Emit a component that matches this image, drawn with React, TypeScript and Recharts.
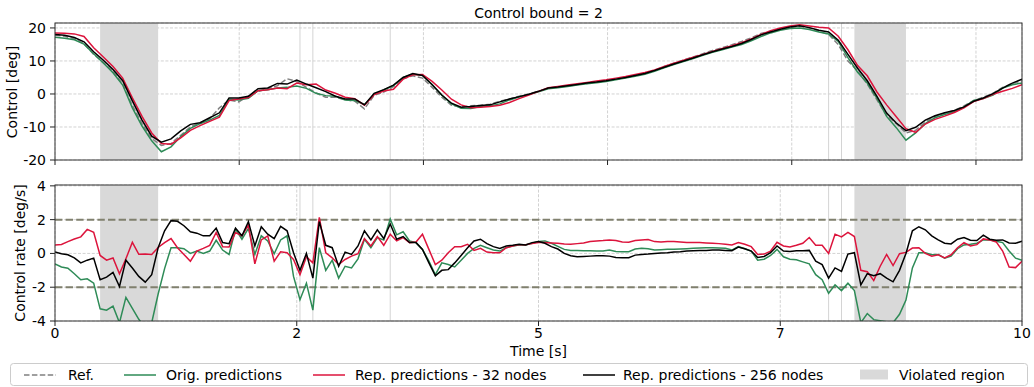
import React from 'react';
import { LineChart, Line, XAxis, YAxis, CartesianGrid, ReferenceArea, ReferenceLine } from 'recharts';

const FONT = "'DejaVu Sans', sans-serif";

// time steps (s)
const TOP_STEP = 0.1;
const RATE_STEP = 1 / 15;

// Control [deg], sampled every 0.1 s
const refControl = [
  17.8, 17.5, 16.7, 15.2, 12.0, 9.5, 6.8, 3.0, -3.5, -9.0,
  -13.5, -15.6, -15.0, -12.5, -10.0, -8.8, -7.5, -4.2, -1.8, -2.4,
  -0.6, 0.8, 1.6, 2.5, 4.6, 3.8, 2.0, 0.3, -1.0, -1.0,
  -1.7, -2.2, -4.5, -0.4, 0.6, 2.2, 4.6, 5.5, 4.8, 2.0,
  -1.0, -3.4, -4.0, -3.6, -3.4, -3.1, -2.2, -1.5, -0.7, 0.0,
  0.8, 1.7, 2.0, 2.4, 2.8, 3.2, 3.6, 4.0, 4.5, 5.0,
  5.6, 6.2, 7.2, 8.3, 9.3, 10.3, 11.2, 12.2, 13.2, 14.0,
  14.9, 15.9, 17.0, 18.3, 19.0, 19.7, 20.2, 20.5, 20.0, 19.0,
  18.0, 15.0, 10.0, 7.0, 3.0, -1.8, -6.5, -9.0, -11.8, -11.0,
  -8.5, -6.8, -5.8, -5.0, -3.6, -2.0, -1.0, 0.2, 2.0, 3.2,
  4.0,
];
const origControl = [
  17.2, 16.9, 16.4, 15.1, 12.2, 9.4, 6.4, 2.7, -4.2, -9.7,
  -14.2, -17.5, -16.0, -12.9, -10.4, -9.0, -7.9, -6.5, -1.6, -1.8,
  -1.3, 1.0, 1.3, 1.8, 2.0, 2.4, 1.7, 0.2, -0.5, -0.7,
  -1.8, -2.0, -3.2, -0.1, 1.2, 2.5, 5.0, 6.0, 5.7, 2.9,
  -0.4, -3.0, -4.3, -4.4, -3.8, -3.6, -3.0, -1.8, -0.9, -0.2,
  0.7, 1.6, 1.9, 2.3, 2.7, 3.1, 3.4, 3.8, 4.3, 4.8,
  5.4, 6.0, 6.9, 7.9, 8.9, 9.8, 10.7, 11.7, 12.6, 13.4,
  14.2, 15.0, 16.1, 17.4, 18.5, 19.3, 19.8, 20.0, 19.5, 18.8,
  18.2, 15.9, 11.0, 6.6, 3.3, -1.3, -6.8, -10.2, -14.0, -11.8,
  -9.0, -7.2, -6.2, -5.4, -4.0, -2.0, -1.4, -0.3, 1.8, 2.8,
  3.3,
];
const rep32Control = [
  18.5, 18.4, 18.2, 17.4, 14.0, 11.2, 8.3, 4.8, -1.2, -6.8,
  -11.8, -15.0, -15.2, -13.3, -11.0, -9.6, -8.3, -7.0, -2.0, -1.5,
  -1.1, 1.0, 1.3, 1.8, 1.6, 3.3, 2.8, 3.0, 1.2, 0.2,
  -1.0, -1.4, -3.4, -0.2, 0.9, 1.4, 4.5, 5.8, 5.9, 3.8,
  1.2, -1.6, -3.3, -4.2, -4.0, -3.8, -3.4, -2.6, -1.4, -0.3,
  0.8, 1.9, 2.3, 2.7, 3.1, 3.5, 3.9, 4.3, 4.8, 5.3,
  5.9, 6.5, 7.3, 8.3, 9.3, 10.2, 11.1, 12.0, 12.9, 13.8,
  14.6, 15.5, 16.7, 18.0, 19.2, 20.0, 20.6, 21.0, 20.6, 20.2,
  20.0, 17.5, 13.4, 8.6, 5.5, 0.6, -3.3, -6.9, -10.5, -11.6,
  -9.1, -7.7, -6.7, -5.6, -4.2, -2.3, -1.4, -0.1, 0.8, 1.7,
  2.8,
];
const rep256Control = [
  18.0, 17.8, 17.1, 15.8, 12.8, 10.2, 7.4, 4.0, -2.1, -7.9,
  -12.8, -14.6, -13.6, -11.2, -9.2, -8.7, -7.2, -5.7, -1.2, -1.2,
  -0.7, 1.6, 1.8, 3.2, 3.0, 4.2, 3.0, 1.9, 0.7, -0.7,
  -1.5, -1.5, -3.3, 0.2, 1.3, 2.7, 5.0, 6.2, 5.6, 2.8,
  -0.3, -2.8, -4.0, -3.8, -3.5, -3.3, -2.4, -1.5, -0.8, -0.1,
  0.8, 1.8, 2.1, 2.5, 2.9, 3.3, 3.6, 4.0, 4.5, 5.0,
  5.6, 6.2, 7.1, 8.1, 9.1, 10.0, 10.9, 11.9, 12.8, 13.6,
  14.4, 15.3, 16.5, 17.9, 18.8, 19.6, 20.3, 20.7, 20.1, 19.3,
  18.8, 16.3, 12.0, 7.8, 4.0, -0.7, -5.8, -8.8, -11.1, -10.1,
  -7.9, -6.6, -5.7, -5.0, -3.9, -2.2, -1.2, 0.1, 1.8, 3.3,
  4.5,
];

// Control rate [deg/s], sampled every 1/15 s
const origRate = [
  -0.62, -0.8, -0.88, -1.2, -1.56, -1.5, -1.76, -3.28, -3.36, -3.12,
  -4.1, -2.6, -3.26, -3.9, -4.4, -4.1, -2.4, -0.9, 0.34, 0.34,
  0.28, 0.0, 0.14, 0.0, 0.14, 0.78, 0.2, -0.06, 1.44, 0.84,
  1.48, -0.06, 1.04, 0.74, -0.02, 0.8, 1.04, -1.36, -2.74, -1.76,
  -3.36, 0.34, -1.0, -0.4, -1.46, -0.76, -0.86, -0.32, 0.84, 0.34,
  0.94, 0.8, 2.04, 1.1, 1.28, 0.74, 0.64, 0.24, -0.46, -1.26,
  -0.56, -0.66, -0.8, -0.4, 0.0, 0.3, 0.48, 0.34, 0.2, 0.14,
  0.34, 0.44, 0.5, 0.5, 0.6, 0.7, 0.74, 0.6, 0.42, 0.24,
  0.18, 0.18, 0.16, 0.16, 0.14, 0.14, 0.2, 0.12, 0.1, 0.1,
  0.26, 0.3, 0.28, 0.2, 0.22, 0.24, 0.24, 0.26, 0.28, 0.3,
  0.32, 0.34, 0.34, 0.32, 0.3, 0.2, 0.4, 0.28, 0.14, -0.4,
  -0.34, -0.12, 0.24, -0.2, -0.34, -0.38, -0.5, -0.62, -1.26, -1.56,
  -2.36, -1.86, -2.2, -1.76, -2.2, -4.1, -3.56, -3.92, -3.98, -4.04,
  -4.1, -3.6, -2.76, -0.86, 0.04, 0.04, -0.08, -0.06, -0.28, -0.16,
  0.28, 0.5, 0.54, 0.6, 0.8, 0.8, 0.72, 0.64, 0.14, -0.28,
  -0.4,
];
const rep32Rate = [
  0.5, 0.53, 0.7, 0.85, 0.98, 1.42, 1.25, -0.12, -0.4, -0.27,
  -1.2, -0.32, 0.66, -0.05, -0.04, -0.06, 0.35, 0.64, 0.88, 0.34,
  -0.06, -0.46, 0.14, 0.3, 0.48, 1.24, 0.4, 0.38, 1.24, 1.04,
  1.68, -0.62, 0.8, 1.04, -0.46, 0.1, 0.04, -0.36, -1.26, -0.2,
  -0.56, 2.14, 0.04, -0.26, -0.66, -0.36, -0.16, -0.02, 0.88, 0.44,
  1.0, 0.48, 1.14, 0.74, 0.94, 0.64, 0.68, 1.14, 0.24, -0.66,
  -0.4, 0.04, 0.4, 0.4, 0.54, 0.18, 0.3, 0.08, 0.04, 0.04,
  0.34, 0.44, 0.52, 0.52, 0.58, 0.64, 0.64, 0.62, 0.6, 0.56,
  0.54, 0.58, 0.62, 0.7, 0.74, 0.76, 0.8, 0.76, 0.68, 0.66,
  0.76, 0.8, 0.82, 0.7, 0.68, 0.7, 0.7, 0.68, 0.64, 0.64,
  0.64, 0.62, 0.6, 0.58, 0.54, 0.5, 0.64, 0.54, 0.4, -0.06,
  -0.04, 0.14, 0.66, 0.44, 0.38, 0.48, 0.6, 0.94, 0.48, 0.48,
  0.0, 1.14, 0.98, 1.24, 1.0, -1.0, -1.08, -1.6, -0.76, -0.06,
  -0.72, -0.02, 0.06, 0.32, 0.34, 0.0, -0.16, -0.08, -0.26, -0.08,
  0.34, 0.64, 0.44, 0.52, 0.86, 0.8, 0.68, 0.14, -0.8, -0.84,
  -0.46,
];
const rep256Rate = [
  0.08, -0.02, -0.08, -0.26, -0.56, -0.4, -0.28, -1.56, -1.4, -1.12,
  -1.96, -0.4, -0.86, -1.36, -1.7, -1.26, 0.34, 1.34, 1.94, 1.9,
  1.64, 1.28, 1.2, 1.04, 1.04, 1.5, 0.64, 0.58, 1.5, 1.04,
  1.88, 0.44, 1.58, 1.14, 0.88, 1.6, 1.34, 0.04, -1.0, 0.0,
  -1.46, 1.88, 0.48, 0.34, -0.76, 0.08, -0.06, 0.44, 1.34, 0.8,
  1.4, 0.88, 1.74, 0.84, 1.0, 0.64, 0.64, 0.24, -0.56, -1.32,
  -1.0, -0.96, -0.56, -0.12, 0.34, 0.74, 0.84, 0.58, 0.4, 0.3,
  0.44, 0.48, 0.54, 0.5, 0.64, 0.7, 0.6, 0.4, 0.26, 0.0,
  -0.14, -0.2, -0.18, -0.16, -0.14, -0.14, -0.16, -0.24, -0.26, -0.26,
  -0.1, -0.06, -0.04, 0.0, 0.02, 0.04, 0.08, 0.1, 0.14, 0.16,
  0.18, 0.18, 0.2, 0.2, 0.18, 0.16, 0.38, 0.28, 0.14, -0.24,
  -0.18, 0.04, 0.44, 0.14, 0.12, 0.16, 0.16, 0.18, -0.46, -0.66,
  -1.46, -0.86, -1.06, -0.04, 0.04, -1.86, -1.2, -1.32, -1.2, -1.46,
  -1.68, -1.0, 0.0, 1.34, 1.58, 1.4, 1.04, 0.8, 0.6, 0.56,
  0.84, 0.94, 0.78, 0.76, 1.08, 0.84, 0.78, 0.8, 0.62, 0.6,
  0.72,
];

const topTicks = [0, 1.905, 3.81, 5.714, 7.619, 9.524];
const timeTicks = [0, 2.5, 5, 7.5, 10];
const timeTickLabels = ['0', '2', '5', '7', '10'];
const controlTicks = [-20, -10, 0, 10, 20];
const rateTicks = [-4, -2, 0, 2, 4];
const violatedRegions: [number, number][] = [[7 / 15, 16 / 15], [124 / 15, 132 / 15]];
const markerTimes = [38 / 15, 40 / 15, 52 / 15, 120 / 15, 122 / 15];
const controlBound = 2;

const topData = refControl.map((v, i) => ({
  t: i * TOP_STEP,
  ref: v,
  orig: origControl[i],
  rep32: rep32Control[i],
  rep256: rep256Control[i],
}));
const rateData = origRate.map((v, i) => ({
  t: i * RATE_STEP,
  orig: v,
  rep32: rep32Rate[i],
  rep256: rep256Rate[i],
}));

const GREEN = '#2e8b57';
const RED = '#dc143c';
const BLACK = '#000000';
const REF = '#808080';
const SHADE = '#d9d9d9';
const GRID = '#c6c6c6';
const MARK = '#d4d4d4';
const BOUND = '#80806e';

const tickStyle = { fill: '#000', fontSize: 14, fontFamily: FONT };

const formatTime = (v: number) => {
  const idx = timeTicks.indexOf(v);
  return idx >= 0 ? timeTickLabels[idx] : String(v);
};

export default function App() {
  return (
    <div style={{ position: 'absolute', left: 0, top: 0, width: 1034, height: 387, background: '#fff', fontFamily: FONT }}>
      <div style={{ position: 'absolute', left: 0, top: 0 }}>
        <LineChart width={1034} height={175} data={topData} margin={{ top: 23, right: 12, bottom: 0, left: 0 }}>
          <CartesianGrid stroke={GRID} strokeDasharray="3 1.6" strokeWidth={0.8} />
          <XAxis dataKey="t" type="number" domain={[0, 10]} ticks={topTicks} interval={0}
            tickFormatter={() => ''} height={15} tickSize={5} axisLine={false}
            tickLine={{ stroke: '#222' }} allowDataOverflow />
          <YAxis type="number" domain={[-20, 21.5]} ticks={controlTicks} interval={0} width={55}
            tickSize={5} tickMargin={4} axisLine={false} tickLine={{ stroke: '#222' }}
            tick={tickStyle} allowDataOverflow />
          {violatedRegions.map(([a, b], i) => (
            <ReferenceArea key={'va' + i} x1={a} x2={b} fill={SHADE} fillOpacity={1} stroke="none" />
          ))}
          {markerTimes.map((m, i) => (
            <ReferenceLine key={'mt' + i} x={m} stroke={MARK} strokeWidth={1} />
          ))}
          <Line dataKey="ref" type="linear" stroke={REF} strokeWidth={1.5} strokeDasharray="5.5 2.4" dot={false} isAnimationActive={false} />
          <Line dataKey="orig" type="linear" stroke={GREEN} strokeWidth={1.5} dot={false} isAnimationActive={false} />
          <Line dataKey="rep32" type="linear" stroke={RED} strokeWidth={1.5} dot={false} isAnimationActive={false} />
          <Line dataKey="rep256" type="linear" stroke={BLACK} strokeWidth={1.5} dot={false} isAnimationActive={false} />
        </LineChart>
      </div>
      <div style={{ position: 'absolute', left: 0, top: 170 }}>
        <LineChart width={1034} height={171} data={rateData} margin={{ top: 15, right: 12, bottom: 0, left: 0 }}>
          <CartesianGrid stroke={GRID} strokeDasharray="3 1.6" strokeWidth={0.8} />
          <XAxis dataKey="t" type="number" domain={[0, 10]} ticks={timeTicks} interval={0}
            tickFormatter={formatTime} height={20} tickSize={5} tickMargin={2} axisLine={false}
            tickLine={{ stroke: '#222' }} tick={tickStyle} allowDataOverflow />
          <YAxis type="number" domain={[-4, 4.05]} ticks={rateTicks} interval={0} width={55}
            tickSize={5} tickMargin={4} axisLine={false} tickLine={{ stroke: '#222' }}
            tick={tickStyle} allowDataOverflow />
          {violatedRegions.map(([a, b], i) => (
            <ReferenceArea key={'vb' + i} x1={a} x2={b} fill={SHADE} fillOpacity={1} stroke="none" />
          ))}
          {markerTimes.map((m, i) => (
            <ReferenceLine key={'mb' + i} x={m} stroke={MARK} strokeWidth={1} />
          ))}
          <ReferenceLine y={controlBound} stroke={BOUND} strokeWidth={2} strokeDasharray="7.4 3.2" />
          <ReferenceLine y={-controlBound} stroke={BOUND} strokeWidth={2} strokeDasharray="7.4 3.2" />
          <Line dataKey="orig" type="linear" stroke={GREEN} strokeWidth={1.5} dot={false} isAnimationActive={false} />
          <Line dataKey="rep32" type="linear" stroke={RED} strokeWidth={1.5} dot={false} isAnimationActive={false} />
          <Line dataKey="rep256" type="linear" stroke={BLACK} strokeWidth={1.5} dot={false} isAnimationActive={false} />
        </LineChart>
      </div>
      <svg width={1034} height={387} style={{ position: 'absolute', left: 0, top: 0, pointerEvents: 'none' }}>
        <rect x={55} y={23} width={967} height={137} fill="none" stroke="#333" strokeWidth={1} />
        <rect x={55} y={185} width={967} height={136} fill="none" stroke="#333" strokeWidth={1} />
        <text x={538.5} y={18} textAnchor="middle" fontSize={14} fontFamily={FONT} fill="#000">Control bound = 2</text>
        <text transform="translate(16.5,92) rotate(-90)" textAnchor="middle" fontSize={14} fontFamily={FONT} fill="#000">Control [deg]</text>
        <text transform="translate(25,253) rotate(-90)" textAnchor="middle" fontSize={14} fontFamily={FONT} fill="#000">Control rate [deg/s]</text>
        <text x={538.5} y={356} textAnchor="middle" fontSize={14} fontFamily={FONT} fill="#000">Time [s]</text>
        <rect x={10.5} y={363.5} width={1017} height={22} rx={3} fill="#fff" fillOpacity={0.8} stroke="#cccccc" strokeWidth={1} />
        <line x1={24} x2={56} y1={375} y2={375} stroke={REF} strokeWidth={1.5} strokeDasharray="5.5 2.4" />
        <text x={68} y={380} fontSize={14} fontFamily={FONT} fill="#000">Ref.</text>
        <line x1={124} x2={156} y1={375} y2={375} stroke={GREEN} strokeWidth={1.5} />
        <text x={166} y={380} fontSize={14} fontFamily={FONT} fill="#000">Orig. predictions</text>
        <line x1={313} x2={345} y1={375} y2={375} stroke={RED} strokeWidth={1.5} />
        <text x={355} y={380} fontSize={14} fontFamily={FONT} fill="#000">Rep. predictions - 32 nodes</text>
        <line x1={583} x2={615} y1={375} y2={375} stroke={BLACK} strokeWidth={1.5} />
        <text x={623} y={380} fontSize={14} fontFamily={FONT} fill="#000">Rep. predictions - 256 nodes</text>
        <rect x={860} y={369.5} width={28} height={10} fill={SHADE} />
        <text x={899} y={380} fontSize={14} fontFamily={FONT} fill="#000">Violated region</text>
      </svg>
    </div>
  );
}
